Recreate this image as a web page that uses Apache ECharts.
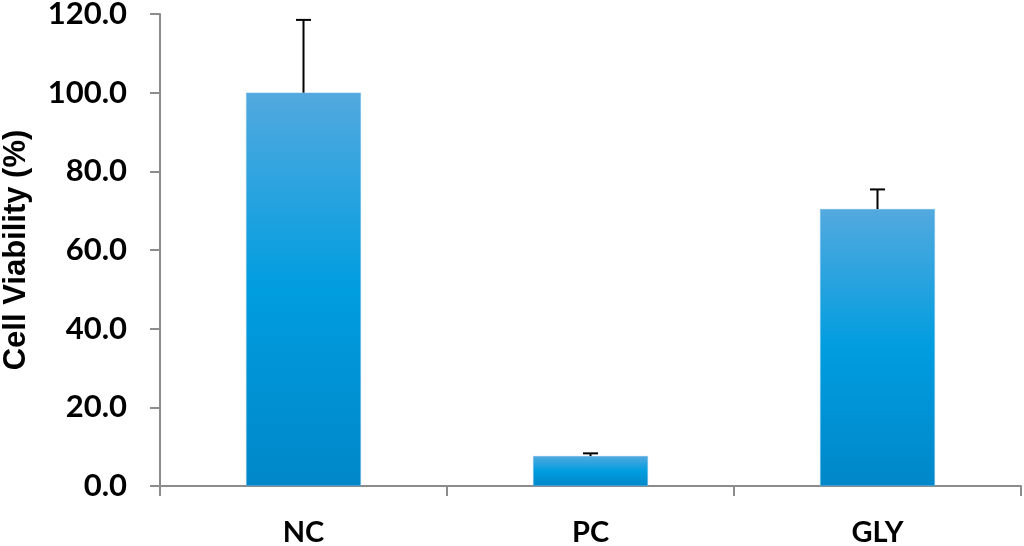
<!DOCTYPE html>
<html><head><meta charset="utf-8">
<script src="https://cdn.jsdelivr.net/npm/echarts@6/dist/echarts.min.js"></script>
<style>html,body{margin:0;padding:0;background:#fff}#c{width:1024px;height:546px}</style>
</head><body><div id="c"></div>
<script>
const categories = ['NC', 'PC', 'GLY'];
const viability = [100.0, 7.6, 70.4];
const errorUpper = [118.5, 8.3, 75.4];
const yTicks = [0, 20, 40, 60, 80, 100, 120];

const chart = echarts.init(document.getElementById('c'));
const font = 'Lato, "Open Sans", sans-serif';
chart.setOption({
  animation: false,
  grid: {left: 160, right: 3, top: 14, bottom: 60, containLabel: false, outerBoundsMode: 'none'},
  xAxis: {
    type: 'category', data: categories,
    axisLine: {lineStyle: {color: '#8c8c8c', width: 2}},
    axisTick: {show: true, length: 10, lineStyle: {color: '#8c8c8c', width: 2}},
    axisLabel: {margin: 32, fontFamily: font, fontWeight: 'bold', fontSize: 29, color: '#000'}
  },
  yAxis: {
    type: 'value', min: yTicks[0], max: yTicks[yTicks.length - 1], interval: 20,
    name: 'Cell Viability (%)', nameLocation: 'middle', nameGap: 128, nameRotate: 90,
    nameTextStyle: {fontFamily: '"Liberation Sans", Arial, sans-serif', fontWeight: 'bold', fontSize: 31, color: '#000'},
    axisLine: {show: true, lineStyle: {color: '#8c8c8c', width: 2}},
    axisTick: {show: true, length: 10, lineStyle: {color: '#8c8c8c', width: 2}},
    splitLine: {show: false},
    axisLabel: {margin: 33, fontFamily: font, fontWeight: 'bold', fontSize: 31, color: '#000',
      formatter: v => v.toFixed(1)}
  },
  series: [{
    type: 'bar', data: viability, barCategoryGap: '60%',
    itemStyle: {color: new echarts.graphic.LinearGradient(0, 0, 0, 1, [
      {offset: 0, color: '#53A9DF'},
      {offset: 0.5, color: '#009DDF'},
      {offset: 1, color: '#0087C9'}
    ]), borderColor: '#6fb9e6', borderWidth: 0.5},
    z: 2
  }, {
    type: 'custom',
    data: categories.map((c, i) => [i, viability[i], errorUpper[i]]),
    renderItem: function (params, api) {
      const base = api.coord([api.value(0), api.value(1)]);
      const top = api.coord([api.value(0), api.value(2)]);
      const hw = 7.5;
      return {type: 'group', children: [
        {type: 'line', shape: {x1: base[0], y1: base[1], x2: top[0], y2: top[1]}, style: {stroke: '#000', lineWidth: 2}},
        {type: 'line', shape: {x1: top[0] - hw, y1: top[1], x2: top[0] + hw, y2: top[1]}, style: {stroke: '#000', lineWidth: 2}}
      ]};
    },
    z: 3
  }]
});
</script></body></html>
